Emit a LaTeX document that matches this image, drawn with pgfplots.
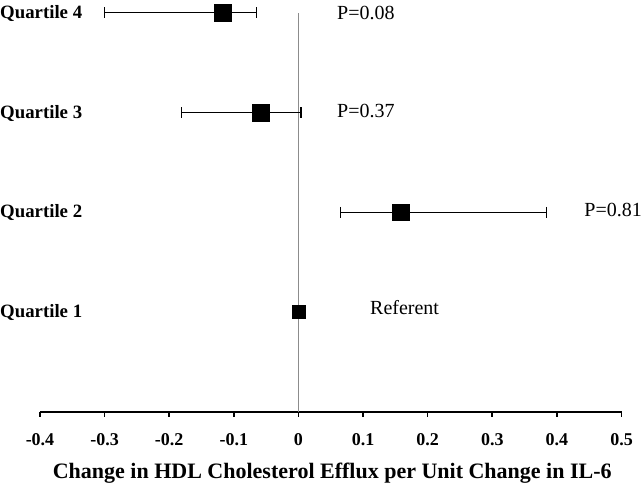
\documentclass[border=0pt]{standalone}
\usepackage{fontspec}
\setmainfont{Liberation Serif}
\usepackage{pgfplots}
\pgfplotsset{compat=1.18}
\definecolor{zeroline}{RGB}{140,140,140}
\begin{document}
\begin{tikzpicture}
\path[use as bounding box] (0,0) rectangle (642bp,484bp);
\begin{axis}[
  at={(40bp,72bp)}, anchor=south west,
  scale only axis, width=581.5bp, height=399.3bp,
  xmin=-0.4, xmax=0.5, ymin=0, ymax=4,
  axis x line*=bottom, axis y line=none,
  xtick={-0.4,-0.3,-0.2,-0.1,0,0.1,0.2,0.3,0.4,0.5},
  xticklabels={-0.4,-0.3,-0.2,-0.1,0,0.1,0.2,0.3,0.4,0.5},
  tick align=outside, major tick length=4.5bp,
  tick style={black, line width=1.6bp},
  axis line style={black, line width=1.6bp, -},
  xticklabel style={font=\bfseries\fontsize{18bp}{19bp}\selectfont, anchor=base, inner sep=0pt, yshift=-29bp},
  xlabel={Change in HDL Cholesterol Efflux per Unit Change in IL-6},
  xlabel style={font=\bfseries\fontsize{22bp}{24bp}\selectfont, at={(axis description cs:0.5,0)}, anchor=base, inner sep=0pt, yshift=-66.3bp, xshift=1.5bp},
  clip=false,
]
\addplot[zeroline, line width=1.8bp] coordinates {(0,0) (0,4)};
% confidence intervals (lower, upper)
\addplot[black, line width=1.6bp, mark=|, mark size=5.5bp, mark options={line width=1.6bp}] coordinates {(-0.300,4) (-0.065,4)};
\addplot[black, line width=1.6bp, mark=|, mark size=5.5bp, mark options={line width=1.6bp}] coordinates {(-0.181,3) (0.004,3)};
\addplot[black, line width=1.6bp, mark=|, mark size=5.5bp, mark options={line width=1.6bp}] coordinates {(0.065,2) (0.384,2)};
% point estimates
\addplot[only marks, mark=square*, mark size=8.3bp, black] coordinates {(-0.117,4) (-0.058,3) (0.158,2)};
\addplot[only marks, mark=square*, mark size=6.5bp, black] coordinates {(0,1)};
\begin{scope}[every node/.style={anchor=base west, inner sep=0pt, font=\bfseries\fontsize{18.8bp}{20bp}\selectfont}]
\node[xshift=-40bp, yshift=-5.5bp] at (axis cs:-0.4,4) {Quartile 4};
\node[xshift=-40bp, yshift=-5.5bp] at (axis cs:-0.4,3) {Quartile 3};
\node[xshift=-40bp, yshift=-5.5bp] at (axis cs:-0.4,2) {Quartile 2};
\node[xshift=-40bp, yshift=-5.5bp] at (axis cs:-0.4,1) {Quartile 1};
\end{scope}
\begin{scope}[every node/.style={anchor=base west, inner sep=0pt, font=\fontsize{20bp}{22bp}\selectfont}]
\node at (axis cs:0.0596,3.934) {P=0.08};
\node at (axis cs:0.0596,2.952) {P=0.37};
\node at (axis cs:0.4424,1.956) {P=0.81};
\node at (axis cs:0.1107,0.972) {Referent};
\end{scope}
\end{axis}
\end{tikzpicture}
\end{document}
